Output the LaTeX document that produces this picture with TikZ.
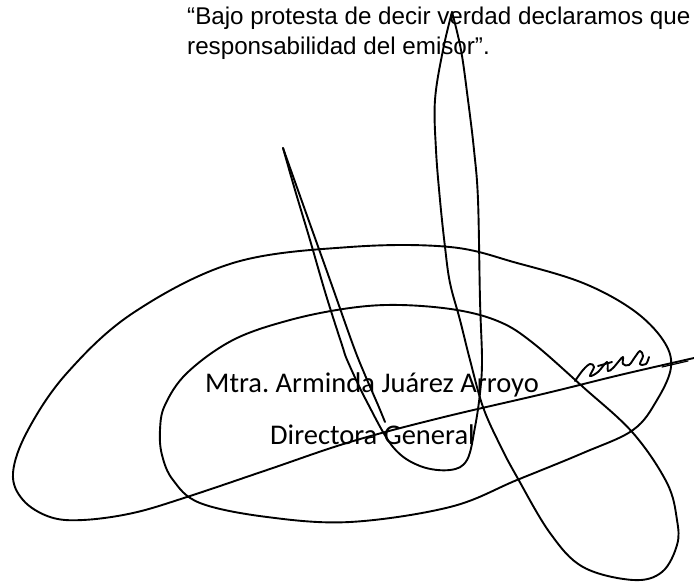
\documentclass[tikz,border=0pt]{standalone}
\usepackage{fontspec}
\newfontfamily\declfont{Liberation Sans}
\newfontfamily\namefont{Carlito}
\usetikzlibrary{positioning}

\begin{document}
\begin{tikzpicture}[x=1pt, y=-1pt]

\tikzstyle{decl} = [anchor=base west, inner sep=0pt, font=\declfont\fontsize{24.2}{30}\selectfont]
\tikzstyle{firma} = [anchor=base west, inner sep=0pt, font=\namefont\fontsize{28.5}{34}\selectfont]
\tikzstyle{trazo} = [line width=1.9pt, line cap=round, line join=round]

\useasboundingbox (0,0) rectangle (694,585);

\node (decl1) [decl] at (187,25) {“Bajo protesta de decir verdad declaramos que};
\node (decl2) [decl] at (187,55) {responsabilidad del emisor”.};
\node (nombre) [firma] at (205,393) {Mtra.\ Arminda Juárez Arroyo};
\node (cargo) [firma] at (270,445) {Directora General};

% firma
\draw [trazo] plot [smooth, tension=0.6] coordinates {(385,422) (378,405) (365,375) (353,345) (330,280) (305,210) (283,148)};
\draw [trazo] plot [smooth, tension=0.6] coordinates {(283,148) (295,190) (310,240) (326,295) (342,345) (348,362) (367,402) (393,447) (420,466) (450,470) (467,460) (475,427) (480,393) (482,360) (480,300) (478,200) (474,150) (468,100) (461,50) (452,12)};
\draw [trazo] plot [smooth, tension=0.6] coordinates {(452,12) (443,50) (435,100) (436,150) (440,200) (445,247) (450,283) (460,320) (470,360) (483,407) (500,445) (517,477) (550,533) (583,567) (633,580) (662,572) (677,545) (677,520) (667,483) (633,433) (583,387) (533,343) (500,322) (457,310) (400,305) (350,308) (290,320) (233,340) (187,373) (165,405) (160,430) (162,455) (173,480) (200,503) (267,517) (350,522) (450,507) (517,480) (583,453) (633,430) (657,400) (671,367) (663,340) (633,310) (583,283) (517,263) (450,247) (350,247) (233,263) (133,313) (67,373) (28,430) (13,473) (23,500) (50,517) (83,520) (133,513) (187,497) (267,470) (350,442) (440,418) (547,393) (620,375) (694,358)};
\draw [trazo] plot [smooth, tension=0.6] coordinates {(575,381) (583,370) (590,364) (594,367) (590,376) (598,372) (607,362) (608,371) (613,368) (619,361) (623,357) (623,364) (629,365) (635,357) (640,351) (643,356) (640,364) (646,364) (649,357)};
\draw [trazo] (598,366) -- (612,362);
\draw [trazo, line width=1.2pt] (662,367) -- (688,361);

\end{tikzpicture}
\end{document}
